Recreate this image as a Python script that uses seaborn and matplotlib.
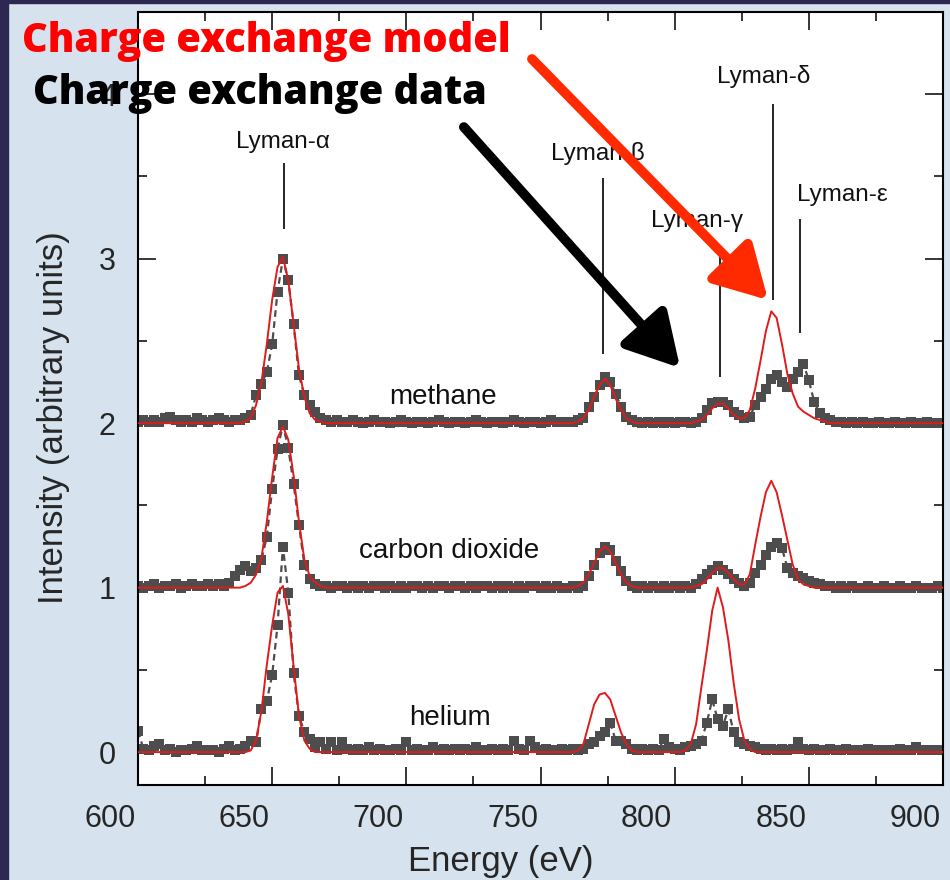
import numpy as np
import pandas as pd
import matplotlib
matplotlib.use("Agg")
import matplotlib.pyplot as plt
from matplotlib.transforms import ScaledTranslation
from matplotlib.patches import Rectangle, FancyArrowPatch
import seaborn as sns

# ---------------- data ----------------
energy = np.arange(600, 901, 2)  # eV grid

methane_data = [
    0.01, 0.02, 0.01, 0.02, 0.01, 0.03, 0.04, 0.02, 0.01, 0.02,
    0.01, 0.03, 0.02, 0.01, 0.02, 0.03, 0.02, 0.01, 0.02, 0.02,
    0.03, 0.05, 0.17, 0.24, 0.31, 0.48, 0.80, 1.00, 0.87, 0.60,
    0.29, 0.17, 0.11, 0.07, 0.03, 0.02, 0.01, 0.02, 0.01, 0.01,
    0.02, 0.01, 0.00, 0.01, 0.02, 0.01, 0.01, 0.00, 0.01, 0.02,
    0.01, 0.00, 0.01, 0.01, 0.00, 0.01, 0.02, 0.01, 0.00, 0.01,
    0.01, 0.00, 0.01, 0.02, 0.01, 0.00, 0.01, 0.01, 0.00, 0.01,
    0.02, 0.01, 0.00, 0.01, 0.01, 0.00, 0.01, 0.02, 0.01, 0.01,
    0.01, 0.01, 0.02, 0.03, 0.10, 0.16, 0.23, 0.28, 0.25, 0.18,
    0.10, 0.04, 0.02, 0.01, 0.00, 0.01, 0.00, 0.01, 0.00, 0.01,
    0.00, 0.01, 0.01, 0.00, 0.01, 0.03, 0.08, 0.12, 0.13, 0.13,
    0.11, 0.07, 0.05, 0.03, 0.04, 0.11, 0.16, 0.21, 0.27, 0.29,
    0.25, 0.22, 0.27, 0.31, 0.36, 0.26, 0.13, 0.06, 0.03, 0.02,
    0.01, 0.01, 0.00, 0.01, 0.00, 0.01, 0.00, 0.00, 0.01, 0.00,
    0.00, 0.01, 0.00, 0.00, 0.01, 0.00, 0.00, 0.01, 0.00, 0.00,
    0.00,
]
methane_model = [
    0.00, 0.00, 0.00, 0.00, 0.00, 0.00, 0.00, 0.00, 0.00, 0.00,
    0.00, 0.00, 0.00, 0.00, 0.00, 0.00, 0.00, 0.00, 0.00, 0.00,
    0.01, 0.03, 0.11, 0.25, 0.48, 0.75, 0.95, 1.01, 0.87, 0.60,
    0.33, 0.16, 0.06, 0.02, 0.01, 0.00, 0.00, 0.00, 0.00, 0.00,
    0.00, 0.00, 0.00, 0.00, 0.00, 0.00, 0.00, 0.00, 0.00, 0.00,
    0.00, 0.00, 0.00, 0.00, 0.00, 0.00, 0.00, 0.00, 0.00, 0.00,
    0.00, 0.00, 0.00, 0.00, 0.00, 0.00, 0.00, 0.00, 0.00, 0.00,
    0.00, 0.00, 0.00, 0.00, 0.00, 0.00, 0.00, 0.00, 0.00, 0.00,
    0.00, 0.00, 0.01, 0.03, 0.08, 0.16, 0.23, 0.27, 0.23, 0.15,
    0.08, 0.03, 0.01, 0.00, 0.00, 0.00, 0.00, 0.00, 0.00, 0.00,
    0.00, 0.00, 0.00, 0.00, 0.01, 0.02, 0.05, 0.09, 0.12, 0.12,
    0.09, 0.05, 0.03, 0.03, 0.08, 0.21, 0.38, 0.56, 0.68, 0.64,
    0.48, 0.30, 0.18, 0.10, 0.07, 0.05, 0.03, 0.02, 0.01, 0.00,
    0.00, 0.00, 0.00, 0.00, 0.00, 0.00, 0.00, 0.00, 0.00, 0.00,
    0.00, 0.00, 0.00, 0.00, 0.00, 0.00, 0.00, 0.00, 0.00, 0.00,
    0.00,
]
co2_data = [
    0.01, 0.00, 0.01, 0.02, 0.00, 0.01, 0.01, 0.02, 0.00, 0.01,
    0.02, 0.01, 0.01, 0.02, 0.01, 0.02, 0.01, 0.03, 0.07, 0.11,
    0.13, 0.10, 0.12, 0.17, 0.31, 0.60, 0.84, 0.99, 0.85, 0.63,
    0.38, 0.14, 0.05, 0.02, 0.01, 0.01, 0.00, 0.01, 0.01, 0.00,
    0.01, 0.00, 0.01, 0.00, 0.01, 0.01, 0.00, 0.01, 0.00, 0.01,
    0.00, 0.01, 0.01, 0.00, 0.01, 0.00, 0.01, 0.01, 0.00, 0.01,
    0.01, 0.00, 0.01, 0.00, 0.01, 0.01, 0.00, 0.01, 0.00, 0.01,
    0.00, 0.01, 0.00, 0.01, 0.01, 0.00, 0.01, 0.00, 0.01, 0.00,
    0.00, 0.01, 0.00, 0.01, 0.07, 0.14, 0.21, 0.25, 0.23, 0.16,
    0.10, 0.04, 0.01, 0.00, 0.01, 0.00, 0.01, 0.00, 0.01, 0.00,
    0.01, 0.00, 0.01, 0.00, 0.02, 0.05, 0.08, 0.11, 0.13, 0.11,
    0.08, 0.05, 0.03, 0.01, 0.03, 0.09, 0.14, 0.20, 0.25, 0.27,
    0.24, 0.12, 0.09, 0.07, 0.06, 0.04, 0.03, 0.02, 0.01, 0.01,
    0.00, 0.01, 0.00, 0.01, 0.00, 0.00, 0.01, 0.00, 0.00, 0.01,
    0.00, 0.00, 0.01, 0.00, 0.00, 0.01, 0.00, 0.00, 0.00, 0.01,
    0.00,
]
co2_model = [
    0.00, 0.00, 0.00, 0.00, 0.00, 0.00, 0.00, 0.00, 0.00, 0.00,
    0.00, 0.00, 0.00, 0.00, 0.00, 0.00, 0.00, 0.00, 0.00, 0.00,
    0.01, 0.03, 0.08, 0.18, 0.40, 0.67, 0.91, 0.98, 0.90, 0.68,
    0.40, 0.17, 0.07, 0.03, 0.01, 0.00, 0.00, 0.00, 0.00, 0.00,
    0.00, 0.00, 0.00, 0.00, 0.00, 0.00, 0.00, 0.00, 0.00, 0.00,
    0.00, 0.00, 0.00, 0.00, 0.00, 0.00, 0.00, 0.00, 0.00, 0.00,
    0.00, 0.00, 0.00, 0.00, 0.00, 0.00, 0.00, 0.00, 0.00, 0.00,
    0.00, 0.00, 0.00, 0.00, 0.00, 0.00, 0.00, 0.00, 0.00, 0.00,
    0.00, 0.00, 0.01, 0.03, 0.08, 0.15, 0.22, 0.25, 0.22, 0.15,
    0.08, 0.03, 0.01, 0.00, 0.00, 0.00, 0.00, 0.00, 0.00, 0.00,
    0.00, 0.00, 0.00, 0.00, 0.01, 0.02, 0.05, 0.09, 0.12, 0.12,
    0.09, 0.05, 0.02, 0.02, 0.08, 0.26, 0.43, 0.58, 0.65, 0.58,
    0.44, 0.29, 0.14, 0.05, 0.02, 0.01, 0.00, 0.00, 0.00, 0.00,
    0.00, 0.00, 0.00, 0.00, 0.00, 0.00, 0.00, 0.00, 0.00, 0.00,
    0.00, 0.00, 0.00, 0.00, 0.00, 0.00, 0.00, 0.00, 0.00, 0.00,
    0.00,
]
helium_data = [
    0.13, 0.02, 0.01, 0.04, 0.05, 0.01, 0.02, 0.00, 0.01, 0.01,
    0.02, 0.04, 0.01, 0.01, 0.01, 0.00, 0.02, 0.04, 0.01, 0.02,
    0.04, 0.07, 0.06, 0.26, 0.31, 0.47, 0.77, 1.25, 0.97, 0.48,
    0.22, 0.12, 0.08, 0.03, 0.06, 0.02, 0.06, 0.01, 0.06, 0.02,
    0.01, 0.02, 0.01, 0.03, 0.01, 0.02, 0.01, 0.01, 0.02, 0.01,
    0.06, 0.01, 0.02, 0.01, 0.01, 0.03, 0.01, 0.02, 0.01, 0.02,
    0.01, 0.02, 0.01, 0.03, 0.01, 0.01, 0.02, 0.01, 0.02, 0.01,
    0.07, 0.02, 0.01, 0.07, 0.03, 0.01, 0.02, 0.01, 0.01, 0.02,
    0.01, 0.02, 0.01, 0.02, 0.05, 0.06, 0.10, 0.12, 0.18, 0.07,
    0.07, 0.05, 0.02, 0.01, 0.02, 0.01, 0.02, 0.01, 0.08, 0.03,
    0.02, 0.01, 0.03, 0.04, 0.05, 0.07, 0.18, 0.32, 0.20, 0.16,
    0.26, 0.12, 0.06, 0.05, 0.04, 0.03, 0.02, 0.01, 0.02, 0.01,
    0.02, 0.01, 0.02, 0.06, 0.02, 0.01, 0.02, 0.01, 0.01, 0.02,
    0.01, 0.01, 0.02, 0.01, 0.01, 0.01, 0.02, 0.01, 0.01, 0.01,
    0.01, 0.01, 0.02, 0.01, 0.01, 0.03, 0.01, 0.01, 0.01, 0.01,
    0.01,
]
helium_model = [
    0.00, 0.00, 0.00, 0.00, 0.00, 0.00, 0.00, 0.00, 0.00, 0.00,
    0.00, 0.00, 0.00, 0.00, 0.00, 0.00, 0.00, 0.00, 0.00, 0.00,
    0.00, 0.01, 0.07, 0.25, 0.53, 0.77, 0.97, 1.01, 0.84, 0.52,
    0.22, 0.07, 0.02, 0.00, 0.00, 0.00, 0.00, 0.00, 0.00, 0.00,
    0.00, 0.00, 0.00, 0.00, 0.00, 0.00, 0.00, 0.00, 0.00, 0.00,
    0.00, 0.00, 0.00, 0.00, 0.00, 0.00, 0.00, 0.00, 0.00, 0.00,
    0.00, 0.00, 0.00, 0.00, 0.00, 0.00, 0.00, 0.00, 0.00, 0.00,
    0.00, 0.00, 0.00, 0.00, 0.00, 0.00, 0.00, 0.00, 0.00, 0.00,
    0.00, 0.00, 0.01, 0.05, 0.17, 0.29, 0.35, 0.36, 0.32, 0.22,
    0.12, 0.05, 0.01, 0.00, 0.00, 0.00, 0.00, 0.00, 0.00, 0.00,
    0.00, 0.00, 0.01, 0.05, 0.17, 0.40, 0.62, 0.86, 1.00, 0.88,
    0.68, 0.42, 0.20, 0.07, 0.02, 0.00, 0.00, 0.00, 0.00, 0.00,
    0.00, 0.00, 0.00, 0.00, 0.00, 0.00, 0.00, 0.00, 0.00, 0.00,
    0.00, 0.00, 0.00, 0.00, 0.00, 0.00, 0.00, 0.00, 0.00, 0.00,
    0.00, 0.00, 0.00, 0.00, 0.00, 0.00, 0.00, 0.00, 0.00, 0.00,
    0.00,
]

gases = ["methane", "carbon dioxide", "helium"]
offsets = [2, 1, 0]
data_series = [methane_data, co2_data, helium_data]
model_series = [methane_model, co2_model, helium_model]

lyman_names = ["Lyman-α", "Lyman-β", "Lyman-γ", "Lyman-δ", "Lyman-ε"]
lyman_energy = [654.4, 773.3, 817.0, 836.7, 846.7]

# ---------------- build tables ----------------
rows = []
for gas, off, d, m in zip(gases, offsets, data_series, model_series):
    for e, dv, mv in zip(energy, d, m):
        rows.append({"gas": gas, "energy": e, "data": dv + off, "model": mv + off})
df = pd.DataFrame(rows)

# ---------------- style ----------------
sns.set_theme(style="ticks")
plt.rcParams["font.family"] = ["Liberation Sans", "DejaVu Sans"]

W, H = 950, 880
fig = plt.figure(figsize=(W / 100, H / 100), dpi=100, facecolor="#d6e2ee")
# dark frame strips
fig.add_artist(Rectangle((0, 0), 8 / W, 1, transform=fig.transFigure,
                         color="#2d2852", zorder=0))
fig.add_artist(Rectangle((0, 1 - 3 / H), 1, 3 / H, transform=fig.transFigure,
                         color="#2d2852", zorder=0))

ax = fig.add_axes([138 / W, 1 - 785 / H, (943 - 138) / W, (785 - 12) / H])
ax.set_facecolor("white")

DATA_C = "#4d4d4d"
for gas in gases:
    sub = df[df["gas"] == gas]
    # dashed connecting line of the measured spectrum
    sns.lineplot(data=sub, x="energy", y="data", ax=ax, color=DATA_C,
                 linestyle=(0, (3, 2)), linewidth=1.6, sort=False, zorder=2)
    # square data markers
    sns.scatterplot(data=sub, x="energy", y="data", ax=ax, color=DATA_C,
                    marker="s", s=50, linewidth=0, zorder=2.5)
    # model curve
    sns.lineplot(data=sub, x="energy", y="model", ax=ax, color="#e01b1b",
                 linewidth=1.4, sort=False, zorder=3)

ax.set_xlim(600, 900)
ax.set_ylim(-0.2, 4.5)
ax.set_xticks(np.arange(600, 901, 50))
ax.set_xticks(np.arange(625, 900, 50), minor=True)
ax.set_yticks([0, 1, 2, 3, 4])
ax.set_yticks([0.5, 1.5, 2.5, 3.5, 4.5], minor=True)
ax.tick_params(which="both", direction="in", top=True, right=True,
               color="black", width=1.1)
ax.tick_params(which="major", length=13, labelsize=22, pad=14)
ax.tick_params(which="minor", length=6.5)
ax.tick_params(axis="y", which="major", pad=16)
for sp in ax.spines.values():
    sp.set_linewidth(1.5)
    sp.set_color("black")

shift = ScaledTranslation(-0.28, 0, fig.dpi_scale_trans)
for lab in ax.get_xticklabels():
    lab.set_transform(lab.get_transform() + shift)

ax.set_xlabel("Energy (eV)", fontsize=25)
ax.set_ylabel("Intensity (arbitrary units)", fontsize=25)
ax.xaxis.set_label_coords(0.451, -0.077)
ax.yaxis.set_label_coords(-0.085, 0.475)

# Lyman markers
label_pos = [(654, 3.71), (771.5, 3.64), (808.3, 3.23), (833, 4.11), (862.4, 3.39)]
line_top = [3.58, 3.49, 3.08, 3.94, 3.24]
line_bot = [3.18, 2.42, 2.28, 2.75, 2.55]
ax.vlines(lyman_energy, line_bot, line_top, color="black", linewidth=1.2, zorder=4)
for name, (lx, ly) in zip(lyman_names, label_pos):
    ax.text(lx, ly, name, ha="center", va="center", fontsize=17.5, color="#111111")

gas_label_pos = [(713.7, 2.16), (716, 1.22), (716.3, 0.21)]
for gas, (gx, gy) in zip(gases, gas_label_pos):
    ax.text(gx, gy, gas, ha="center", va="center", fontsize=20, color="#111111")

# annotation overlays
fig.text(22 / W, 1 - 42 / H, "Charge exchange model", color="#ff0000",
         fontsize=28.6, fontweight="heavy", family=["Open Sans", "DejaVu Sans"],
         ha="left", va="center", zorder=10)
fig.text(33 / W, 1 - 93 / H, "Charge exchange data", color="black",
         fontsize=28.6, fontweight="heavy", family=["Open Sans", "DejaVu Sans"],
         ha="left", va="center", zorder=10)

fig.add_artist(FancyArrowPatch(
    (530, H - 57), (770, H - 302), transform=None,
    arrowstyle="-|>,head_length=0.8,head_width=0.45", mutation_scale=40,
    linewidth=7, color="#ff2a00", zorder=9))
fig.add_artist(FancyArrowPatch(
    (462, H - 125), (682, H - 370), transform=None,
    arrowstyle="-|>,head_length=0.8,head_width=0.45", mutation_scale=40,
    linewidth=7, color="black", zorder=9))

fig.savefig("out.png", dpi=100, facecolor=fig.get_facecolor())
